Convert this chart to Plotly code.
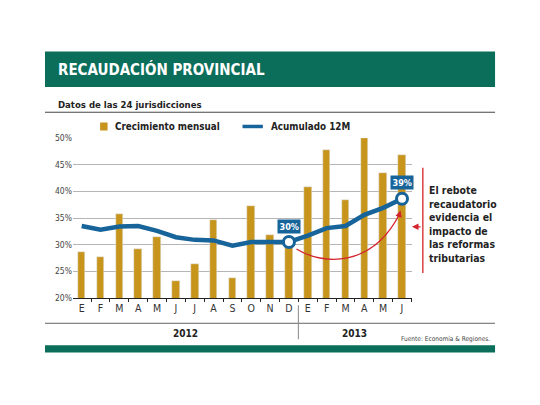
import plotly.graph_objects as go

# Datos (porcentajes)
meses = ["E", "F", "M", "A", "M", "J", "J", "A", "S", "O", "N", "D",
         "E", "F", "M", "A", "M", "J"]
crecimiento_mensual = [28.6, 27.6, 35.8, 29.1, 31.5, 23.2, 26.4, 34.6, 23.8,
                       37.3, 31.9, 30.0, 40.9, 47.7, 38.3, 50.0, 43.4, 46.9]
acumulado_12m = [33.5, 32.8, 33.4, 33.5, 32.6, 31.4, 30.9, 30.8, 29.8,
                 30.5, 30.5, 30.5, 31.7, 33.1, 33.5, 35.6, 36.9, 38.6]
anios = ["2012", "2013"]
y_ticks = [20, 25, 30, 35, 40, 45, 50]

x = list(range(len(meses)))

GREEN = "#0b6e5b"
GOLD = "#c8951c"
BLUE = "#17649a"
RED = "#d4232b"
FONT = "DejaVu Sans Condensed, Liberation Sans Narrow, sans-serif"

fig = go.Figure()
fig.add_trace(go.Bar(x=x, y=crecimiento_mensual, marker_color=GOLD,
                     width=0.4, name="Crecimiento mensual"))
fig.add_trace(go.Scatter(x=x, y=acumulado_12m, mode="lines",
                         line=dict(color=BLUE, width=4.5),
                         name="Acumulado 12M"))
# circulos destacados (diciembre 2012 y junio 2013)
hi = [11, 17]
fig.add_trace(go.Scatter(x=hi, y=[acumulado_12m[i] for i in hi], mode="markers",
                         marker=dict(size=11, color="white",
                                     line=dict(color=BLUE, width=3)),
                         showlegend=False))

fig.update_layout(
    width=540, height=405,
    margin=dict(l=73, r=128, t=138, b=107),
    paper_bgcolor="white", plot_bgcolor="white",
    showlegend=False,
    font=dict(family=FONT, color="#222"),
    bargap=0,
)
fig.update_xaxes(range=[-0.46, 17.53], tickmode="array", tickvals=x,
                 ticktext=meses, ticks="", showgrid=False,
                 showline=True, linecolor="#222", linewidth=1.2,
                 tickfont=dict(size=10.5, color="#333"),
                 minor=dict(tick0=-0.5, dtick=1, ticks="outside",
                            ticklen=3, tickcolor="#222", showgrid=False),
                 fixedrange=True)
fig.update_yaxes(range=[20, 50], tickvals=y_ticks,
                 ticktext=[f"{v}%" for v in y_ticks],
                 showgrid=True, gridcolor="#b5b5b5", gridwidth=1,
                 zeroline=False, showline=False,
                 tickfont=dict(size=8.5, color="#444"), ticklen=0,
                 fixedrange=True)

shapes = [
    # banda de título
    dict(type="rect", xref="paper", yref="paper", x0=-0.0826, x1=1.245,
         y0=1.318, y1=1.54, fillcolor=GREEN, line_width=0, layer="below"),
    # línea bajo el subtítulo
    dict(type="line", xref="paper", yref="paper", x0=-0.0826, x1=1.245,
         y0=1.161, y1=1.161, line=dict(color="#444", width=1)),
    # línea bajo los meses
    dict(type="line", xref="paper", yref="paper", x0=-0.0826, x1=1.245,
         y0=-0.158, y1=-0.158, line=dict(color="#666", width=1)),
    # separador de años
    dict(type="line", xref="x", yref="paper", x0=11.5, x1=11.5,
         y0=-0.045, y1=-0.258, line=dict(color="#888", width=1)),
    # banda inferior
    dict(type="rect", xref="paper", yref="paper", x0=-0.0826, x1=1.245,
         y0=-0.295, y1=-0.34, fillcolor=GREEN, line_width=0),
    # leyenda: cuadrado y línea
    dict(type="rect", xref="paper", yref="paper", x0=0.08, x1=0.102,
         y0=1.047, y1=1.097, fillcolor=GOLD, line_width=0),
    dict(type="line", xref="paper", yref="paper", x0=0.5, x1=0.56,
         y0=1.072, y1=1.072, line=dict(color=BLUE, width=3.5)),
    # arco rojo
    dict(type="path", xref="x", yref="y",
         path="M 11.4,29.2 C 12.8,26.1 15.4,25.7 16.85,35.6",
         line=dict(color=RED, width=1.3)),
    # línea vertical roja
    dict(type="line", xref="paper", yref="paper", x0=1.032, x1=1.032,
         y0=0.814, y1=0.156, line=dict(color=RED, width=1.3)),
]
fig.update_layout(shapes=shapes)

ann = [
    dict(text="<b>RECAUDACIÓN PROVINCIAL</b>", xref="paper", yref="paper",
         x=-0.05, y=1.43, xanchor="left", yanchor="middle", showarrow=False,
         font=dict(size=15, color="white")),
    dict(text="<b>Datos de las 24 jurisdicciones</b>", xref="paper", yref="paper",
         x=-0.05, y=1.212, xanchor="left", yanchor="middle", showarrow=False,
         font=dict(size=9.5, color="#222")),
    dict(text="<b>Crecimiento mensual</b>", xref="paper", yref="paper",
         x=0.118, y=1.075, xanchor="left", yanchor="middle", showarrow=False,
         font=dict(size=9.8, color="#222")),
    dict(text="<b>Acumulado 12M</b>", xref="paper", yref="paper",
         x=0.578, y=1.075, xanchor="left", yanchor="middle", showarrow=False,
         font=dict(size=9.8, color="#222")),
    dict(text="<b>" + anios[0] + "</b>", xref="x", yref="paper", x=5.5, y=-0.22,
         xanchor="center", yanchor="middle", showarrow=False,
         font=dict(size=10, color="#222")),
    dict(text="<b>" + anios[1] + "</b>", xref="x", yref="paper", x=14.5, y=-0.22,
         xanchor="center", yanchor="middle", showarrow=False,
         font=dict(size=10, color="#222")),
    dict(text="Fuente: Economía & Regiones.", xref="paper", yref="paper",
         x=1.236, y=-0.258, xanchor="right", yanchor="middle", showarrow=False,
         font=dict(size=6.5, color="#444")),
    dict(text="<b>El rebote<br>recaudatorio<br>evidencia el<br>impacto de<br>las reformas<br>tributarias</b>",
         xref="paper", yref="paper", x=1.045, y=0.465, xanchor="left",
         yanchor="middle", align="left", showarrow=False,
         font=dict(size=10.4, color="#222")),
    # flecha roja horizontal
    dict(text="", xref="paper", yref="paper", x=1.0, y=0.445,
         ax=10, ay=0, showarrow=True, arrowhead=2, arrowsize=1,
         arrowwidth=1.3, arrowcolor=RED),
    # punta del arco
    dict(text="", xref="x", yref="y", x=16.92, y=36.4, ax=16.8, ay=35.0,
         axref="x", ayref="y", showarrow=True, arrowhead=2, arrowsize=1,
         arrowwidth=1.3, arrowcolor=RED),
]
for i in hi:
    ann.append(dict(text="<b>%d%%</b>" % round(acumulado_12m[i]), x=i,
                    y=acumulado_12m[i], xref="x", yref="y", yshift=16,
                    showarrow=False, bgcolor=BLUE, borderpad=1.5,
                    font=dict(size=9, color="white")))
fig.update_layout(annotations=ann)

fig.write_html("out.html", config={"displayModeBar": False},
               post_script="document.body.style.margin='0';")
